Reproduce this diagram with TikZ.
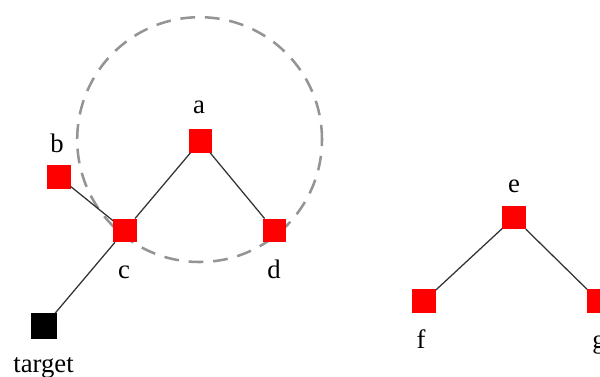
\documentclass[tikz,border=0pt]{standalone}
\usepackage{fontspec}
\setmainfont{Liberation Serif}
\usetikzlibrary{positioning}

\begin{document}
\begin{tikzpicture}[
  vert/.style={fill=red, minimum size=0.58cm, inner sep=0pt},
  goal/.style={fill=black, minimum size=0.65cm, inner sep=0pt},
  lbl/.style={font=\fontsize{19}{22}\selectfont, anchor=base, inner sep=0pt},
  link/.style={draw=black!80, line width=0.9pt},
  reach/.style={draw=black!42, line width=1.8pt, dash pattern=on 10.5pt off 7pt}
]
\clip (0,0) rectangle (15,9.4);
% neighbourhood of a
\draw[reach] (4.99,5.91) circle (3.06cm);
% first tree
\node[vert] (a) at (5.01,5.875) {};
\node[vert] (b) at (1.475,4.975) {};
\node[vert] (c) at (3.125,3.64) {};
\node[vert] (d) at (6.86,3.64) {};
\node[goal] (t) at (1.1,1.24) {};
% second tree
\node[vert] (e) at (12.85,3.96) {};
\node[vert] (f) at (10.6,1.875) {};
\node[vert] (g) at (14.975,1.875) {};
% labels
\node[lbl] (la) at (4.975,6.575) {a};
\node[lbl] (lb) at (1.425,5.6) {b};
\node[lbl] (lc) at (3.1,2.45) {c};
\node[lbl] (ld) at (6.85,2.45) {d};
\node[lbl] (le) at (12.85,4.6) {e};
\node[lbl] (lf) at (10.525,0.7) {f};
\node[lbl] (lg) at (14.975,0.7) {g};
\node[lbl] (lt) at (1.09,0.1) {target};
% edges
\draw[link] (b) -- (c);
\draw[link] (c) -- (a);
\draw[link] (a) -- (d);
\draw[link] (c) -- (t);
\draw[link] (e) -- (f);
\draw[link] (e) -- (g);
\end{tikzpicture}
\end{document}
